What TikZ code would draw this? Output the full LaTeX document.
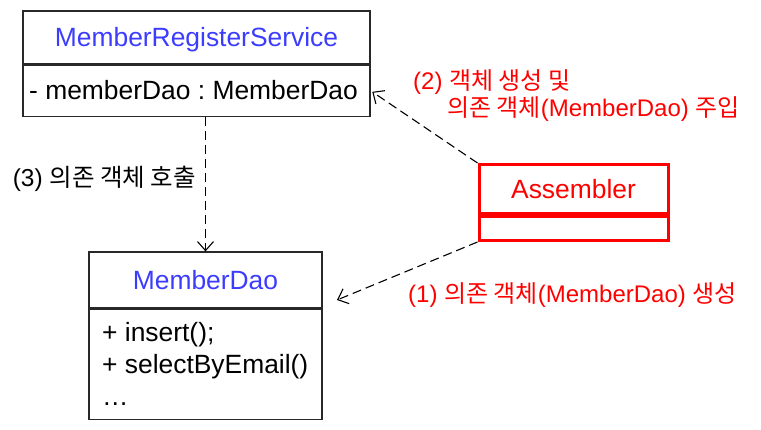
\documentclass[tikz,border=0pt]{standalone}
\usepackage{fontspec}
\setmainfont{Liberation Sans}
\newfontfamily\kr{Noto Sans CJK KR}
\usetikzlibrary{arrows.meta}
\frenchspacing
\definecolor{umlblue}{RGB}{60,60,255}
\definecolor{umlred}{RGB}{255,0,0}
\definecolor{umlline}{RGB}{40,40,40}
\tikzset{
  boxfont/.style={font=\fontsize{26.4}{31}\selectfont},
  cls/.style={draw=umlline, line width=1.2pt, rectangle, inner sep=0pt, boxfont, text height=19pt, text depth=0pt},
  redcls/.style={draw=umlred, line width=3pt, rectangle, inner sep=0pt, boxfont, text=umlred, text height=19pt, text depth=0pt},
  member/.style={anchor=base west, inner sep=0pt, boxfont},
  dep/.style={draw=black, line width=1.1pt, dash pattern=on 9pt off 5pt, -{Straight Barb[length=9pt,width=16pt,line width=1.1pt]}},
  lbl/.style={inner sep=0pt, font=\fontsize{24}{29}\selectfont},
}
\begin{document}
\begin{tikzpicture}[x=1pt,y=-1pt]
\useasboundingbox (0,0) rectangle (761,430);
% MemberRegisterService
\node[cls, minimum width=347pt, minimum height=53pt, text=umlblue] (mrsT) at (196.5,37.5) {MemberRegisterService};
\node[cls, minimum width=347pt, minimum height=51pt, anchor=north] (mrsB) at (mrsT.south) {};
\node[member] (mrsAttr) at (29,100) {- memberDao : MemberDao};
% MemberDao
\node[cls, minimum width=233pt, minimum height=56pt, text=umlblue] (mdT) at (205.5,280) {MemberDao};
\node[cls, minimum width=233pt, minimum height=110pt, anchor=north] (mdB) at (mdT.south) {};
\node[member] (m1) at (102,342) {+ insert();};
\node[member] (m2) at (102,374) {+ selectByEmail()};
\node[member] (m3) at (102,406) {\ldots};
% Assembler
\node[redcls, minimum width=189pt, minimum height=49pt] (asmT) at (573.5,189) {Assembler};
\node[redcls, minimum width=189pt, minimum height=24pt, anchor=north] (asmB) at (asmT.south) {};
% connectors
\coordinate (tip1) at (337,300);
\draw[dep] (mrsB.south -| mdT.north) -- (mdT.north);
\draw[dep, shorten >=2pt] (asmT.north west) -- (mrsB.east);
\draw[dep] (asmB.south west) -- (tip1);
% labels
\node[lbl, anchor=base east, font=\fontsize{24.5}{29}\selectfont] (l3) at (196,187) {(3) {\kr 의존 객체 호출}};
\node[lbl, anchor=base west, text=umlred] (l2a) at (413,90) {(2) {\kr 객체 생성 및}};
\node[lbl, anchor=base west, text=umlred] (l2b) at (447,117) {{\kr 의존 객체}(MemberDao) {\kr 주입}};
\node[lbl, anchor=base west, text=umlred] (l1) at (408,303) {(1) {\kr 의존 객체}(MemberDao) {\kr 생성}};
\end{tikzpicture}
\end{document}
